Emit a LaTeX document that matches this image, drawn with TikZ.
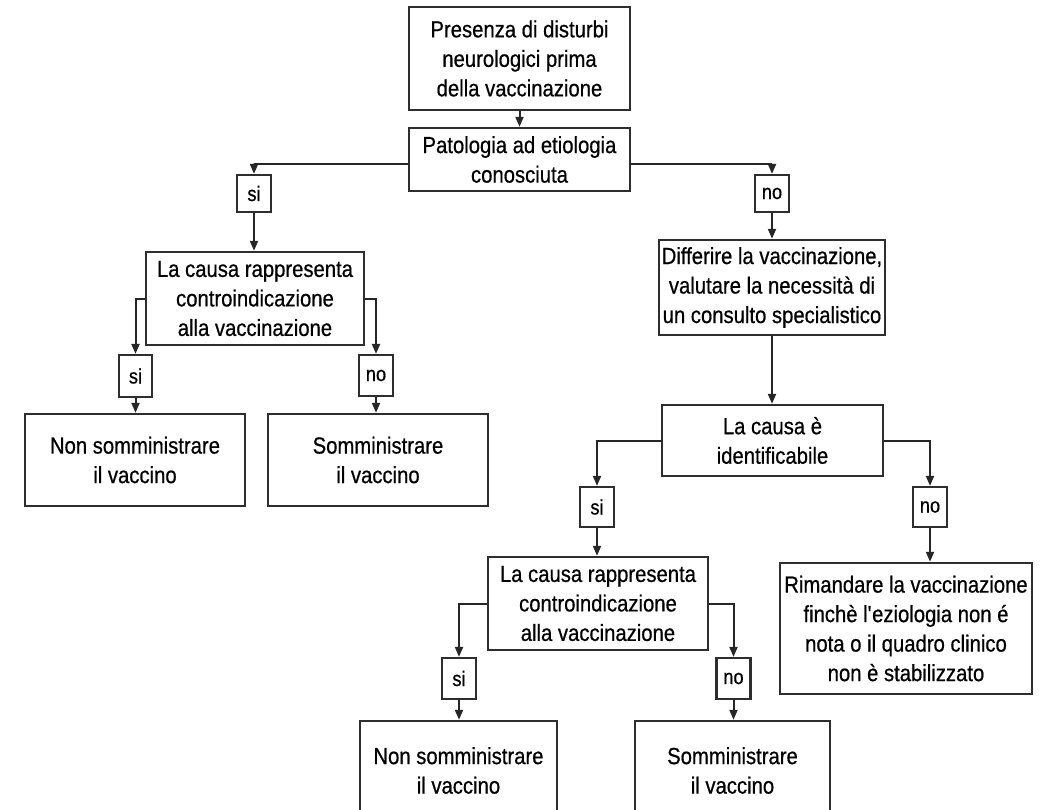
\documentclass[tikz,border=0pt]{standalone}
\usepackage{fontspec}
\setmainfont[FakeStretch=0.87,FakeBold=0.6]{Liberation Sans}
\usetikzlibrary{arrows.meta}
\tikzset{
  box/.style={draw=black!82, line width=2.4pt, inner sep=0pt, align=center,
    font=\fontsize{23.3}{29.5}\selectfont},
  lab/.style={draw=black!82, line width=2.2pt, inner sep=0pt, align=center,
    minimum width=34pt, minimum height=40pt, font=\fontsize{21}{26}\selectfont},
  arr/.style={draw=black!85, line width=2pt, -{Triangle[length=10pt,width=8pt]}},
}
\begin{document}
\begin{tikzpicture}[x=1pt,y=-1pt]
\useasboundingbox (0,0) rectangle (1049,810);
\clip (0,0) rectangle (1049,810);
% main boxes
\node[box, minimum width=221pt, minimum height=103pt] (A) at (519.5,58.5) {Presenza di disturbi\\neurologici prima\\della vaccinazione};
\node[box, minimum width=221pt, minimum height=63pt] (B) at (519.5,159.5) {Patologia ad etiologia\\conosciuta};
\node[lab, minimum height=37pt] (siB) at (254,193.5) {si};
\node[lab, minimum height=37pt] (noB) at (772,193.5) {no};
\node[box, minimum width=218pt, minimum height=93pt] (C) at (255,298.5) {La causa rappresenta\\controindicazione\\alla vaccinazione};
\node[lab, minimum width=33pt, minimum height=42pt] (siC) at (135.5,376) {si};
\node[lab, minimum height=41pt] (noC) at (376,375.5) {no};
\node[box, minimum width=220pt, minimum height=92pt] (D) at (135,460) {Non somministrare\\il vaccino};
\node[box, minimum width=220pt, minimum height=92pt] (E) at (378,460) {Somministrare\\il vaccino};
\node[box, minimum width=226pt, minimum height=95pt] (F) at (772,287.5) {Differire la vaccinazione,\\valutare la necessità di\\un consulto specialistico};
\node[box, minimum width=221pt, minimum height=71pt] (G) at (772.5,440.5) {La causa è\\identificabile};
\node[lab] (siG) at (597,507) {si};
\node[lab] (noG) at (930,507) {no};
\node[box, minimum width=220pt, minimum height=93pt] (H) at (598,603.5) {La causa rappresenta\\controindicazione\\alla vaccinazione};
\node[lab, minimum height=41pt] (siH) at (459,678.5) {si};
\node[lab, minimum height=41pt] (noH) at (733.5,678.5) {no};
\node[box, minimum width=252pt, minimum height=131pt] (I) at (906,628.5) {Rimandare la vaccinazione\\finchè l\textquotesingle eziologia non é\\nota o il quadro clinico\\non è stabilizzato};
\node[box, minimum width=197pt, minimum height=99pt] (J) at (458.5,770.5) {Non somministrare\\il vaccino};
\node[box, minimum width=195pt, minimum height=99pt] (K) at (732.5,770.5) {Somministrare\\il vaccino};
% connectors
\draw[arr] (A.south) -- (B.north);
\draw[arr] ([yshift=-5pt]B.west) -| (siB.north);
\draw[arr] ([yshift=-5pt]B.east) -| (noB.north);
\draw[arr] (siB.south) -- (siB.south |- C.north);
\draw[arr] (noB.south) -- (noB.south |- F.north);
\draw[arr] (C.west) -| (siC.north);
\draw[arr] (C.east) -| (noC.north);
\draw[arr] (siC.south) -- (siC.south |- D.north);
\draw[arr] (noC.south) -- (noC.south |- E.north);
\draw[arr] (F.south) -- (F.south |- G.north);
\draw[arr] (G.west) -| (siG.north);
\draw[arr] (G.east) -| (noG.north);
\draw[arr] (siG.south) -- (siG.south |- H.north);
\draw[arr] (noG.south) -- (noG.south |- I.north);
\draw[arr] (H.west) -| (siH.north);
\draw[arr] (H.east) -| (noH.north);
\draw[arr] (siH.south) -- (siH.south |- J.north);
\draw[arr] (noH.south) -- (noH.south |- K.north);
\end{tikzpicture}
\end{document}
